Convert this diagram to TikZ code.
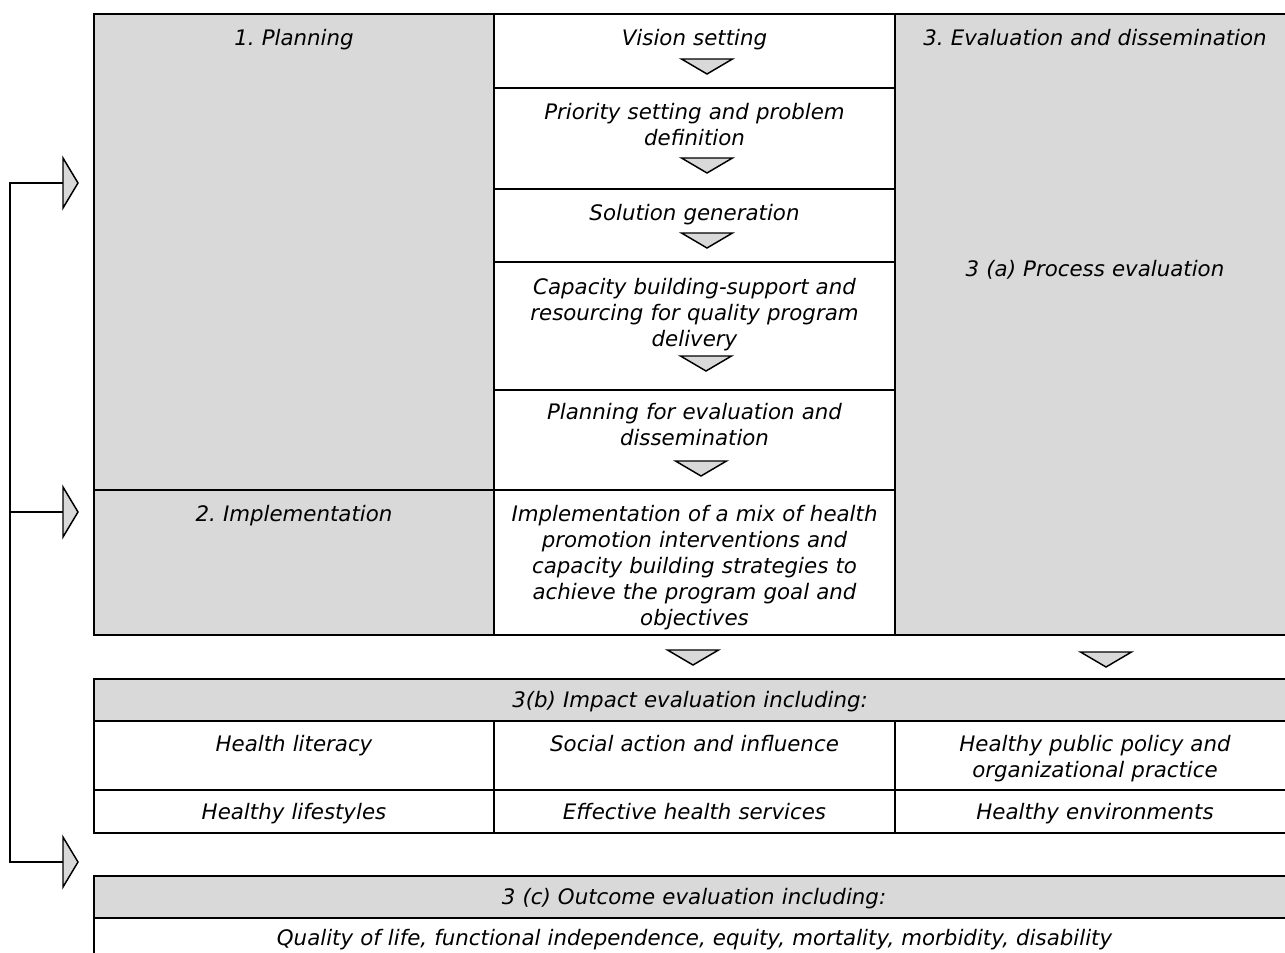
\documentclass[tikz,border=0pt]{standalone}
\usepackage{fontspec}
\setmainfont{DejaVu Sans}
\frenchspacing
\definecolor{cellgrey}{HTML}{D9D9D9}
\tikzset{
  rule/.style={draw=black, line width=1.5pt, line cap=rect},
  tri/.style={draw=black, fill=cellgrey, line width=1.1pt, line join=miter},
  conn/.style={draw=black, line width=1.1pt},
  txt/.style={font=\fontsize{16}{19.5}\selectfont\itshape, inner sep=0pt,
              align=center, anchor=base, text width=#1},
  txt/.default=292.5pt,
  downarr/.pic={\draw[tri] (-25.5,0) -- (25.5,0) -- (0,15) -- cycle;},
  rightarr/.pic={\draw[tri] (0,-25) -- (15,0) -- (0,25) -- cycle;},
}
\begin{document}
\begin{tikzpicture}[x=0.75pt, y=-0.75pt]
\clip (0,0) rectangle (1285,953);

% shaded cells
\fill[cellgrey] (94,14) rectangle (494,635);
\fill[cellgrey] (895,14) rectangle (1300,635);
\fill[cellgrey] (94,679) rectangle (1300,721);
\fill[cellgrey] (94,876) rectangle (1300,918);

% main grid: planning / implementation / evaluation
\draw[rule] (94,14) rectangle (1300,635);
\draw[rule] (494,14) -- (494,635) (895,14) -- (895,635);
\draw[rule] (94,490) -- (895,490);
\draw[rule] (494,88) -- (895,88) (494,189) -- (895,189)
            (494,262) -- (895,262) (494,390) -- (895,390);

% impact evaluation table
\draw[rule] (94,679) rectangle (1300,833);
\draw[rule] (94,721) -- (1300,721) (94,790) -- (1300,790);
\draw[rule] (494,721) -- (494,833) (895,721) -- (895,833);

% outcome evaluation table
\draw[rule] (94,876) rectangle (1300,1000);
\draw[rule] (94,918) -- (1300,918);

% stage labels
\node[txt] (plan) at (294,45) {1. Planning};
\node[txt] (impl) at (294,521) {2. Implementation};
\node[txt] (evalhead) at (1095,45) {3. Evaluation and dissemination};
\node[txt] (procev) at (1095,276) {3 (a) Process evaluation};

% planning steps
\node[txt] (vision) at (694.5,45) {Vision setting};
\node[txt] (priority) at (694.5,119) {Priority setting and problem\\definition};
\node[txt] (solution) at (694.5,220) {Solution generation};
\node[txt] (capacity) at (694.5,294) {Capacity building-support and\\resourcing for quality program\\delivery};
\node[txt] (planeval) at (694.5,419) {Planning for evaluation and\\dissemination};
\node[txt] (mix) at (694.5,521) {Implementation of a mix of health\\promotion interventions and\\capacity building strategies to\\achieve the program goal and\\objectives};

% step arrows
\pic at (707,59) {downarr};
\pic at (707,158) {downarr};
\pic at (707,233) {downarr};
\pic at (706,356) {downarr};
\pic at (701,461) {downarr};
\pic at (693,650) {downarr};
\pic at (1106,652) {downarr};

% impact evaluation
\node[txt=862.5pt] (impact) at (690,707.5) {3(b) Impact evaluation including:};
\node[txt] (literacy) at (294,751.5) {Health literacy};
\node[txt] (social) at (694.5,751.5) {Social action and influence};
\node[txt] (policy) at (1095,751.5) {Healthy public policy and\\organizational practice};
\node[txt] (lifestyle) at (294,819.5) {Healthy lifestyles};
\node[txt] (services) at (694.5,819.5) {Effective health services};
\node[txt] (environ) at (1095,819.5) {Healthy environments};

% outcome evaluation
\node[txt=862.5pt] (outcome) at (694,904.5) {3 (c) Outcome evaluation including:};
\node[txt=885pt] (quality) at (694.5,945) {Quality of life, functional independence, equity, mortality, morbidity, disability};

% feedback loop back to each stage
\coordinate (in1) at (63,183);
\coordinate (in2) at (63,512);
\coordinate (in3) at (63,862);
\coordinate (spinetop) at (10,183);
\coordinate (spinemid) at (10,512);
\coordinate (spinebot) at (10,862);
\draw[conn] (in1) -- (spinetop) -- (spinebot) -- (in3);
\draw[conn] (spinemid) -- (in2);
\pic at (in1) {rightarr};
\pic at (in2) {rightarr};
\pic at (in3) {rightarr};
\end{tikzpicture}
\end{document}
